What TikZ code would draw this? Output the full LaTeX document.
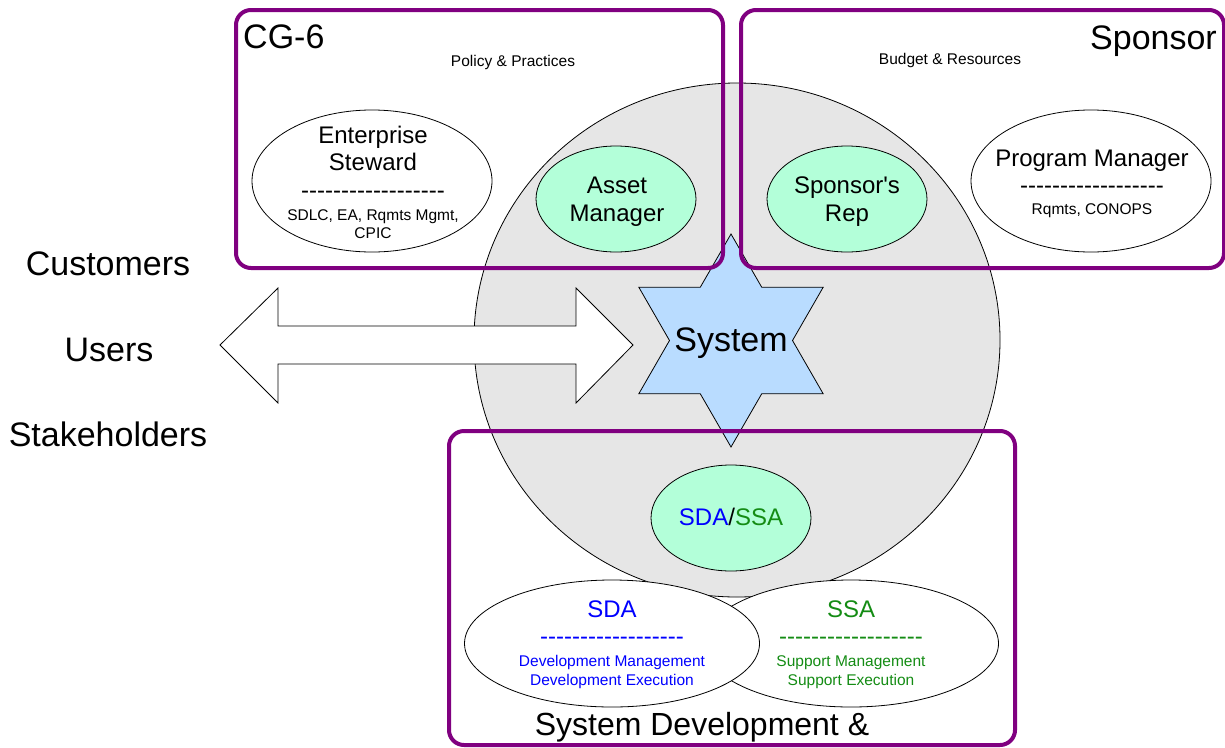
\documentclass[tikz,border=0pt]{standalone}
\usepackage{fontspec}
\setmainfont{Liberation Sans}[Ligatures=TeXOff]
\usetikzlibrary{shapes.geometric}
\definecolor{boxpurple}{RGB}{128,0,128}
\definecolor{circgray}{RGB}{230,230,230}
\definecolor{mint}{RGB}{179,255,217}
\definecolor{starblue}{RGB}{185,220,255}
\definecolor{sdablue}{RGB}{0,0,255}
\definecolor{ssagreen}{RGB}{20,140,20}
\begin{document}
\begin{tikzpicture}[x=1pt,y=-1pt,
  txt/.style={inner sep=0pt, text depth=0pt},
  bigtxt/.style={txt, text height=24.3pt, font=\fontsize{34}{40}\selectfont},
  titletxt/.style={txt, text height=22.9pt, font=\fontsize{32}{38}\selectfont},
  midtxt/.style={txt, text height=17.2pt, font=\fontsize{24}{28}\selectfont},
  smalltxt/.style={txt, text height=11.1pt, font=\fontsize{15.5}{18}\selectfont},
  dashtxt/.style={inner sep=0pt, anchor=base, font=\fontsize{24}{28}\selectfont},
  role/.style={ellipse, draw=black, line width=0.8pt, inner sep=0pt},
  whiterole/.style={role, fill=white, minimum width=240pt, minimum height=142pt},
  mintrole/.style={role, fill=mint, minimum width=160pt, minimum height=106pt},
  devrole/.style={role, fill=white, minimum width=295pt, minimum height=127pt},
  groupbox/.style={draw=boxpurple, line width=4pt, rounded corners=15pt}
]
\useasboundingbox (0,0) rectangle (1225,747);
\fill[white] (0,0) rectangle (1225,747);

% central circle
\node[ellipse, draw=black, line width=0.8pt, fill=circgray, minimum width=526pt, minimum height=514pt, inner sep=0pt] (core) at (737,340) {};

% double arrow
\draw[fill=white, line width=0.8pt] (220,345) -- (278,288) -- (278,326) -- (576,326) -- (576,288)
  -- (633,345) -- (576,403) -- (576,364) -- (278,364) -- (278,403) -- cycle;

% bottom ellipses
\node[devrole] (ssa) at (851,643.5) {};
\node[devrole] (sda) at (612,643.5) {};
\node[mintrole] (sdassa) at (731,518) {};

% top ellipses
\node[whiterole] (steward) at (372,181) {};
\node[whiterole] (pm) at (1091,181) {};
\node[mintrole] (asset) at (616,199) {};
\node[mintrole] (rep) at (847,199) {};

% star
\draw[fill=starblue, line width=0.8pt]
  (731,234) -- (761.7,287.2) -- (823.2,287.2) -- (792.5,340.5) -- (823.2,393.8) -- (761.7,393.8)
  -- (731,447) -- (700.3,393.8) -- (638.8,393.8) -- (669.5,340.5) -- (638.8,287.2) -- (700.3,287.2) -- cycle;

% group boxes
\draw[groupbox] (236,10) rectangle (723,268);
\draw[groupbox] (741,10) rectangle (1224,268);
\draw[groupbox] (449,431) rectangle (1015,745);

% texts
\node[bigtxt, anchor=west] (cg6) at (243,36.5) {CG-6};
\node[smalltxt] (policy) at (513,61) {Policy \& Practices};
\node[bigtxt, anchor=east] (sponsor) at (1217,37) {Sponsor};
\node[smalltxt] (budget) at (950,59) {Budget \& Resources};

\node[midtxt] (es1) at (373,134.5) {Enterprise};
\node[midtxt] (es2) at (373,162) {Steward};
\node[dashtxt] (es3) at (373,198.5) {------------------};
\node[smalltxt] (es4) at (373,214.5) {SDLC, EA, Rqmts Mgmt,};
\node[smalltxt] (es5) at (373,233) {CPIC};

\node[midtxt] (am1) at (617,185) {Asset};
\node[midtxt] (am2) at (617,212.5) {Manager};

\node[midtxt] (sr1) at (847,184.5) {Sponsor's};
\node[midtxt] (sr2) at (847,212.5) {Rep};

\node[midtxt] (pm1) at (1092,157.5) {Program Manager};
\node[dashtxt] (pm2) at (1092,193.5) {------------------};
\node[smalltxt] (pm3) at (1092,209) {Rqmts, CONOPS};

\node[bigtxt] (cust) at (108,263.5) {Customers};
\node[bigtxt] (users) at (109,349) {Users};
\node[bigtxt] (stake) at (108,434.5) {Stakeholders};

\node[bigtxt] (system) at (731,339.5) {System};

\node[midtxt] (sdassatxt) at (731,517) {\textcolor{sdablue}{SDA}/\textcolor{ssagreen}{SSA}};

\node[midtxt, text=sdablue] (sda1) at (612,608.5) {SDA};
\node[dashtxt, text=sdablue] (sda2) at (612,644.5) {------------------};
\node[smalltxt, text=sdablue] (sda3) at (612,660.5) {Development Management};
\node[smalltxt, text=sdablue] (sda4) at (612,679.5) {Development Execution};

\node[midtxt, text=ssagreen] (ssa1) at (851,608.5) {SSA};
\node[dashtxt, text=ssagreen] (ssa2) at (851,644.5) {------------------};
\node[smalltxt, text=ssagreen] (ssa3) at (851,660.5) {Support Management};
\node[smalltxt, text=ssagreen] (ssa4) at (851,679.5) {Support Execution};

\node[titletxt] (sdtitle) at (702,724) {System Development \&};
\end{tikzpicture}
\end{document}
